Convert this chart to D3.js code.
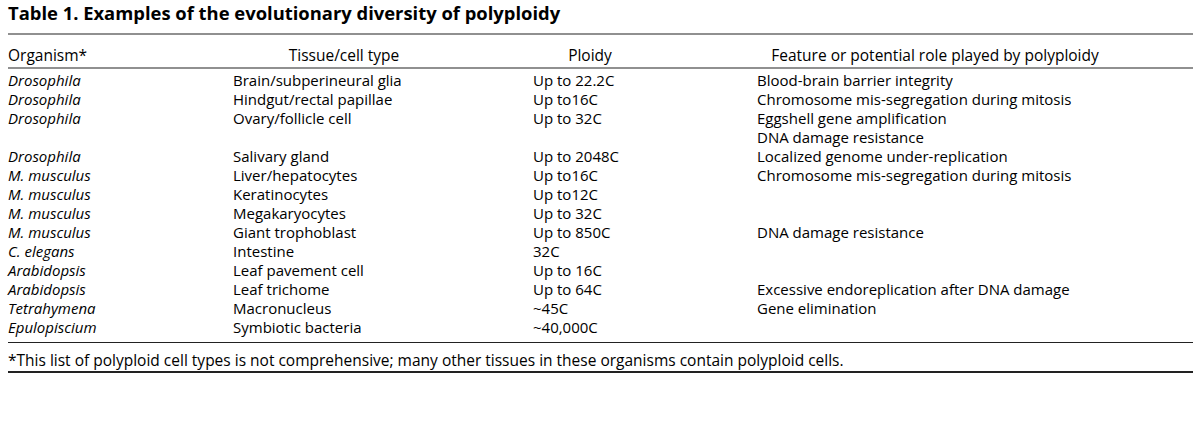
<!DOCTYPE html>
<html>
<head>
<meta charset="utf-8">
<script src="https://cdn.jsdelivr.net/npm/d3@7"></script>
<style>
  body { margin: 0; background: #fff; }
  svg { font-family: "Open Sans", "Noto Sans", sans-serif; }
</style>
</head>
<body>
<svg id="chart" width="1200" height="425"></svg>
<script>
var title = "Table 1. Examples of the evolutionary diversity of polyploidy"
var headers = ["Organism*", "Tissue/cell type", "Ploidy", "Feature or potential role played by polyploidy"]
var organisms = ["Drosophila", "Drosophila", "Drosophila", "Drosophila", "M. musculus", "M. musculus",
  "M. musculus", "M. musculus", "C. elegans", "Arabidopsis", "Arabidopsis", "Tetrahymena", "Epulopiscium"]
var tissues = ["Brain/subperineural glia", "Hindgut/rectal papillae", "Ovary/follicle cell", "Salivary gland",
  "Liver/hepatocytes", "Keratinocytes", "Megakaryocytes", "Giant trophoblast", "Intestine",
  "Leaf pavement cell", "Leaf trichome", "Macronucleus", "Symbiotic bacteria"]
var ploidy = ["Up to 22.2C", "Up to16C", "Up to 32C", "Up to 2048C", "Up to16C", "Up to12C", "Up to 32C",
  "Up to 850C", "32C", "Up to 16C", "Up to 64C", "~45C", "~40,000C"]
var features = [["Blood-brain barrier integrity"], ["Chromosome mis-segregation during mitosis"],
  ["Eggshell gene amplification", "DNA damage resistance"], ["Localized genome under-replication"],
  ["Chromosome mis-segregation during mitosis"], [], [], ["DNA damage resistance"], [], [],
  ["Excessive endoreplication after DNA damage"], ["Gene elimination"], []]
var footnote = "*This list of polyploid cell types is not comprehensive; many other tissues in these organisms contain polyploid cells."

// each row starts on a line; some rows take two lines
var lines = []
var lineNo = 0
organisms.forEach((org, i) => {
  var n = Math.max(1, features[i].length)
  lines.push({org: org, tissue: tissues[i], ploidy: ploidy[i], feats: features[i], line: lineNo})
  lineNo += n
})

var svg = d3.select("#chart")
var left = 8, right = 1193

var y = d3.scaleLinear().domain([0, lineNo - 1]).range([86, 333])
var colX = d3.scaleOrdinal().domain(["org", "tissue", "ploidy", "feat"]).range([8, 233, 533, 757])
var headX = d3.scaleOrdinal().domain(headers).range([8, 344, 590, 935])

svg.append("text")
  .attr("x", left).attr("y", 20)
  .style("font-weight", "bold").style("font-size", "18.4px")
  .text(title)

var rules = [{y: 34, w: 1.2}, {y: 68, w: 1.2}, {y: 342.5, w: 1.2}, {y: 372, w: 2}]
svg.selectAll("line.rule").data(rules).enter().append("line")
  .attr("class", "rule")
  .attr("x1", left).attr("x2", right)
  .attr("y1", d => d.y).attr("y2", d => d.y)
  .attr("stroke", "#222").attr("stroke-width", d => d.w)

svg.append("g").selectAll("text").data(headers).enter().append("text")
  .attr("x", d => headX(d)).attr("y", 61)
  .style("text-anchor", (d, i) => i == 0 ? "start" : "middle")
  .style("font-size", "15.5px").style("font-weight", 500)
  .text(d => d)

var body = svg.append("g").style("font-size", "15px").style("font-weight", 500)

body.selectAll("text.org").data(lines).enter().append("text")
  .attr("class", "org")
  .attr("x", colX("org")).attr("y", d => y(d.line))
  .style("font-style", "italic")
  .text(d => d.org)

body.selectAll("text.tissue").data(lines).enter().append("text")
  .attr("class", "tissue")
  .attr("x", colX("tissue")).attr("y", d => y(d.line))
  .text(d => d.tissue)

body.selectAll("text.ploidy").data(lines).enter().append("text")
  .attr("class", "ploidy")
  .attr("x", colX("ploidy")).attr("y", d => y(d.line))
  .text(d => d.ploidy)

var featLines = []
lines.forEach(d => d.feats.forEach((f, k) => featLines.push({text: f, line: d.line + k})))

body.selectAll("text.feat").data(featLines).enter().append("text")
  .attr("class", "feat")
  .attr("x", colX("feat")).attr("y", d => y(d.line))
  .text(d => d.text)

svg.append("text")
  .attr("x", left).attr("y", 366)
  .style("font-size", "15.5px")
  .text(footnote)
</script>
</body>
</html>
